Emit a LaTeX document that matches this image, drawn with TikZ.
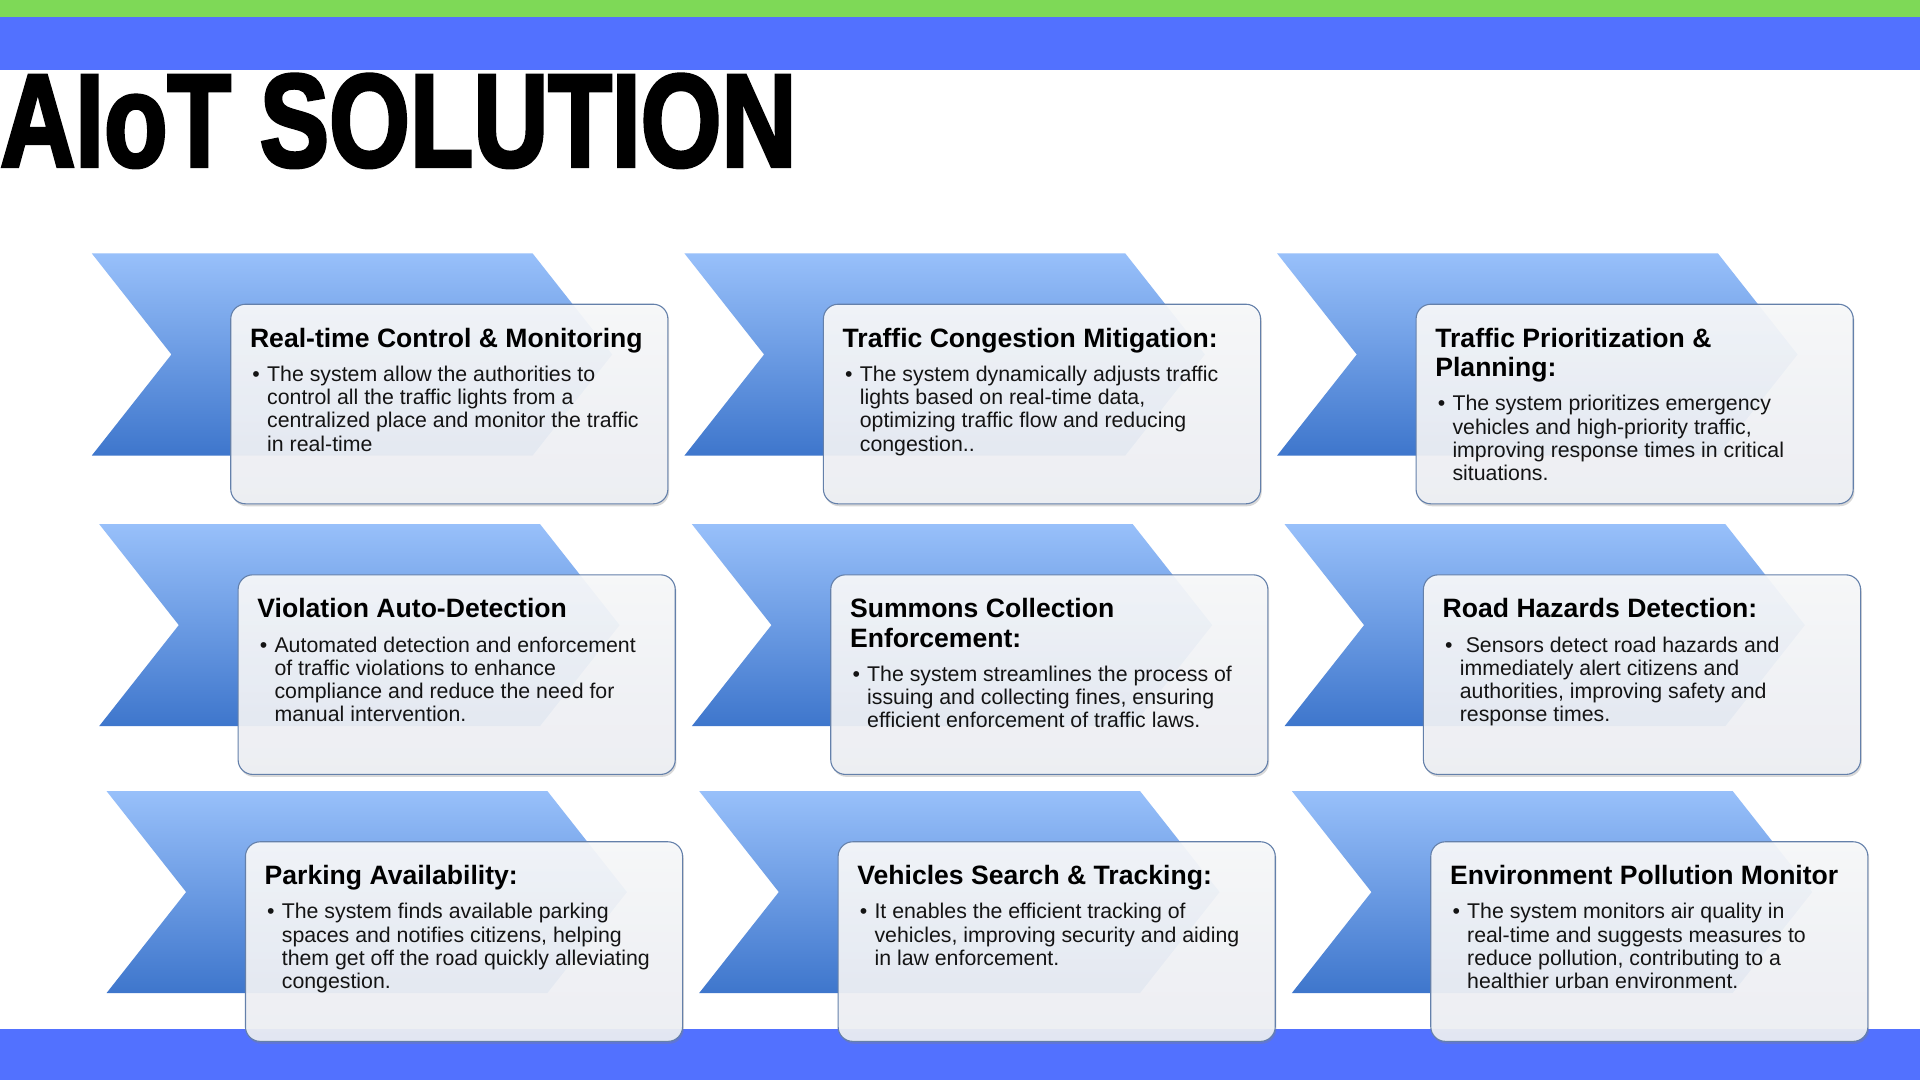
\documentclass[tikz,border=0pt]{standalone}
\usepackage{fontspec}
\setmainfont{Liberation Sans}
\newfontfamily\titlefont{Liberation Sans}[BoldFeatures={FakeBold=3}]
\usetikzlibrary{shadows}
\definecolor{topgreen}{RGB}{126,217,87}
\definecolor{barblue}{RGB}{82,113,255}
\definecolor{chevtop}{RGB}{152,192,250}
\definecolor{chevbot}{RGB}{62,118,204}
\definecolor{boxedge}{RGB}{100,128,170}
\definecolor{boxtop}{RGB}{249,250,251}
\definecolor{boxbot}{RGB}{238,240,245}
\definecolor{ink}{RGB}{20,20,20}
\tikzset{
 chev/.style={top color=chevtop, bottom color=chevbot},
 cardbox/.style={draw=boxedge, line width=0.9pt, rounded corners=12pt, top color=boxtop, bottom color=boxbot, fill opacity=0.92, minimum width=357pt, minimum height=163pt, inner sep=0pt, drop shadow={shadow xshift=1pt, shadow yshift=-2pt, opacity=0.3}},
 head/.style={inner sep=0pt, font=\fontsize{21.7}{24}\selectfont\bfseries, text=black},
 bodytext/.style={inner sep=0pt, font=\fontsize{17.4}{19}\selectfont, text=ink},
}
\newcommand{\mylines}[1]{\begin{tabular}[t]{@{}l@{}}#1\end{tabular}}
\newcommand{\card}[6]{%
  \path[chev] (#2,#3) -- ++(360,0) -- ++(65,82.5) -- ++(-65,82.5) -- ++(-360,0) -- ++(65,-82.5) -- cycle;
  \node[cardbox, anchor=north west] (#1) at (#2+113,#3+41) {};
  \node[head, anchor=base west] (#1h) at ([shift={(16,35.5)}]#1.north west) {\mylines{#4}};
  \node[bodytext, anchor=base west] (#1d) at ([shift={(18,#5)}]#1.north west) {•};
  \node[bodytext, anchor=base west] (#1b) at ([shift={(30,#5)}]#1.north west) {\mylines{#6}};
}
\begin{document}
\begin{tikzpicture}[x=1pt, y=-1pt]
\useasboundingbox (0,0) rectangle (1568,882);
\fill[white] (0,0) rectangle (1568,882);
\fill[topgreen] (0,0) rectangle (1568,14);
\fill[barblue] (0,14) rectangle (1568,57);
\fill[barblue] (0,840) rectangle (1568,882);
\node[anchor=south west, inner sep=0pt] (title) at (0,137) {\resizebox{650pt}{75pt}{\titlefont\bfseries AIoT SOLUTION}};

\card{c1}{75}{207}{Real-time Control \& Monitoring}{63.5}{The system allow the authorities to\\control all the traffic lights from a\\centralized place and monitor the traffic\\in real-time}
\card{c2}{559}{207}{Traffic Congestion Mitigation:}{63.5}{The system dynamically adjusts traffic\\lights based on real-time data,\\optimizing traffic flow and reducing\\congestion..}
\card{c3}{1043}{207}{Traffic Prioritization \&\\Planning:}{87.5}{The system prioritizes emergency\\vehicles and high-priority traffic,\\improving response times in critical\\situations.}

\card{c4}{81}{428}{Violation Auto-Detection}{63.5}{Automated detection and enforcement\\of traffic violations to enhance\\compliance and reduce the need for\\manual intervention.}
\card{c5}{565}{428}{Summons Collection\\Enforcement:}{87.5}{The system streamlines the process of\\issuing and collecting fines, ensuring\\efficient enforcement of traffic laws.}
\card{c6}{1049}{428}{Road Hazards Detection:}{63.5}{\ Sensors detect road hazards and\\immediately alert citizens and\\authorities, improving safety and\\response times.}

\card{c7}{87}{646}{Parking Availability:}{63.5}{The system finds available parking\\spaces and notifies citizens, helping\\them get off the road quickly alleviating\\congestion.}
\card{c8}{571}{646}{Vehicles Search \& Tracking:}{63.5}{It enables the efficient tracking of\\vehicles, improving security and aiding\\in law enforcement.}
\card{c9}{1055}{646}{Environment Pollution Monitor}{63.5}{The system monitors air quality in\\real-time and suggests measures to\\reduce pollution, contributing to a\\healthier urban environment.}
\end{tikzpicture}
\end{document}
